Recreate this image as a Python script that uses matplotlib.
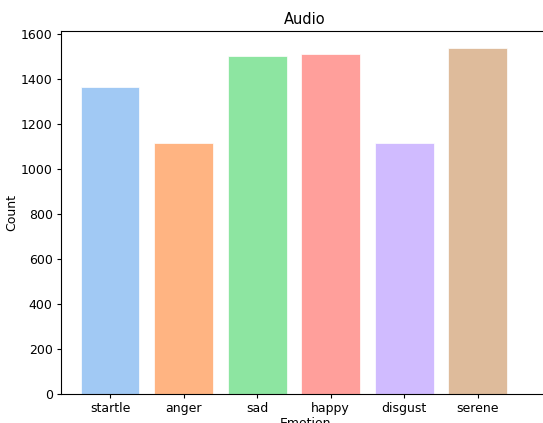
import matplotlib.pyplot as plt

# Counts per emotion class
emotions = ['startle', 'anger', 'sad', 'happy', 'disgust', 'serene']
counts = [1364, 1117, 1503, 1512, 1117, 1539]
colors = ['#a1c9f4', '#ffb482', '#8de5a1', '#ff9f9b', '#d0bbff', '#debb9b']

plt.rcParams['font.size'] = 9

fig = plt.figure(figsize=(5.43, 4.23), dpi=100)
# axes runs slightly past the right edge, as in the cropped reference
ax = fig.add_axes([0.1123, 0.0686, 0.899, 0.8581])

x = range(len(emotions))
ax.bar(x, counts, width=0.8, color=colors, edgecolor='white', linewidth=0.5)
ax.set_xticks(list(x))
ax.set_xticklabels(emotions)
ax.set_xlim(-0.667, 5.97)
ax.set_ylim(0, 1613)
ax.set_yticks(range(0, 1601, 200))
ax.tick_params(length=3, pad=3)

ax.set_title('Audio', fontsize=10.5, pad=5)
ax.set_xlabel('Emotion', labelpad=1)
ax.set_ylabel('Count', labelpad=2)

fig.savefig('out.png', dpi=100)
